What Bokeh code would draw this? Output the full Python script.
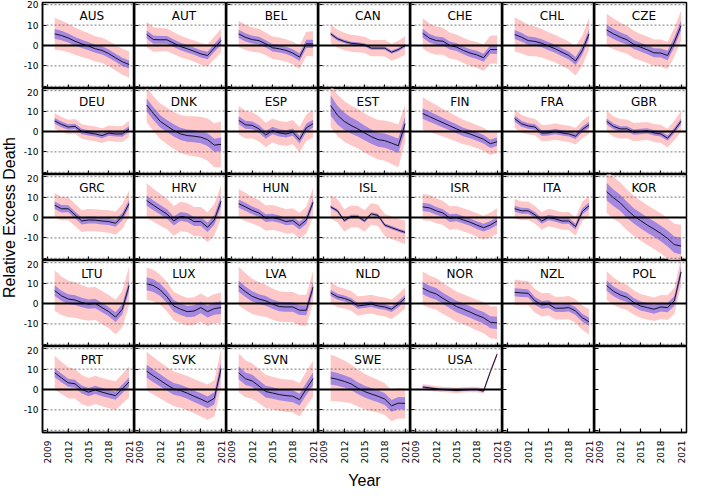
import numpy as np
from bokeh.plotting import figure
from bokeh.layouts import gridplot, row
from bokeh.models import Range1d, FixedTicker, Span
from bokeh.core.properties import value
from bokeh.embed import file_html
from bokeh.resources import INLINE

years = list(range(2010, 2022))
x_ticks = [2009, 2012, 2015, 2018, 2021]
y_ticks = [-20, -10, 0, 10, 20]
y_tick_labels = {20: "20", 10: "10", 0: "0", -10: "-10", -20: ""}

countries = ["AUS", "AUT", "BEL", "CAN", "CHE", "CHL", "CZE",
             "DEU", "DNK", "ESP", "EST", "FIN", "FRA", "GBR",
             "GRC", "HRV", "HUN", "ISL", "ISR", "ITA", "KOR",
             "LTU", "LUX", "LVA", "NLD", "NOR", "NZL", "POL",
             "PRT", "SVK", "SVN", "SWE", "USA"]

# median relative excess death (%), 2010..2021
median = {
    "AUS": [5.7, 4.9, 3.7, 2.1, 0.8, -0.3, -1.6, -2.4, -4.0, -6.0, -8.0, -9.3],
    "AUT": [5.4, 2.9, 2.8, 2.8, 1.1, -0.5, -1.6, -2.8, -4.1, -4.9, -1.2, 2.4],
    "BEL": [5.7, 4.0, 2.9, 2.4, 0.8, -1.1, -1.6, -2.4, -3.7, -5.7, 0.8, 0.8],
    "CAN": [5.7, 3.3, 2.0, 1.1, 0.8, 0.3, -1.3, -1.3, -1.3, -3.3, -2.0, 0.0],
    "CHE": [6.0, 3.6, 2.4, 2.1, 0.0, -0.8, -2.4, -3.7, -4.6, -6.0, -2.0, -2.0],
    "CHL": [5.4, 4.1, 2.4, 2.0, 1.1, -0.3, -1.6, -3.3, -4.9, -7.6, -2.4, 5.7],
    "CZE": [7.6, 5.7, 4.1, 2.8, 0.5, -0.8, -2.1, -3.6, -3.7, -4.9, 1.6, 9.8],
    "DEU": [5.2, 3.5, 2.2, 2.5, 0.0, -0.7, -1.2, -2.0, -0.8, -1.2, -1.2, 1.3],
    "DNK": [13.0, 8.8, 5.0, 2.7, 0.5, -1.2, -2.0, -2.3, -2.8, -4.0, -6.7, -6.3],
    "ESP": [5.5, 3.3, 3.0, 1.3, -1.7, 0.5, -0.7, -1.2, -0.3, -4.0, 1.8, 3.8],
    "EST": [12.7, 8.0, 5.0, 3.0, 1.3, -0.7, -2.5, -4.0, -4.5, -5.7, -7.0, 3.8],
    "FIN": [8.8, 7.3, 5.8, 4.3, 2.8, 1.3, -0.2, -1.2, -2.5, -3.8, -6.0, -5.0],
    "FRA": [6.3, 3.8, 2.7, 2.2, -0.8, -0.7, 0.0, -0.7, -1.2, -2.3, 1.0, 3.3],
    "GBR": [5.0, 2.5, 1.3, 1.3, -0.3, 0.0, 0.3, -0.7, -1.2, -3.3, 0.5, 5.0],
    "GRC": [6.0, 4.3, 4.3, 1.3, -1.7, -1.2, -1.3, -1.7, -2.0, -2.8, 0.5, 6.8],
    "HRV": [8.3, 6.0, 3.8, 1.7, -1.7, 0.5, 0.0, -2.0, -2.0, -4.8, -1.2, 8.0],
    "HUN": [6.8, 5.2, 3.5, 2.2, -0.3, 0.0, -0.8, -2.0, -1.5, -4.0, -1.2, 7.5],
    "ISL": [5.2, 3.3, -1.5, 0.5, 0.5, -1.7, 1.8, 1.0, -3.7, -5.0, -6.2, -7.3],
    "ISR": [5.2, 4.7, 3.3, 2.2, -0.3, 0.0, -1.2, -2.3, -3.7, -5.0, -3.7, -1.7],
    "ITA": [4.3, 3.3, 3.3, 1.3, -1.7, 0.0, -0.7, -1.7, -1.7, -4.5, 3.0, 5.8],
    "KOR": [12.7, 9.7, 7.2, 3.8, 0.8, -1.5, -3.7, -5.7, -7.8, -10.3, -13.3, -14.0],
    "LTU": [6.3, 3.8, 2.2, 1.7, 0.5, -0.3, 0.0, -2.0, -4.0, -6.7, -2.8, 8.8],
    "LUX": [9.7, 8.8, 6.7, 3.3, -1.2, -2.8, -4.0, -3.7, -2.0, -4.0, -2.5, -2.0],
    "LVA": [8.5, 5.8, 3.5, 2.2, 1.3, -0.3, -1.5, -1.7, -1.7, -3.3, -3.3, 8.0],
    "NLD": [5.2, 3.3, 2.5, 1.3, -1.2, -0.8, -0.3, -1.2, -1.7, -2.8, -0.3, 2.7],
    "NOR": [7.5, 5.8, 4.7, 2.5, 0.5, -1.5, -2.8, -4.2, -5.7, -7.0, -9.2, -9.5],
    "NZL": [5.5, 5.2, 5.0, 1.3, -0.7, -0.3, -2.3, -2.3, -2.0, -3.7, -7.0, -9.0],
    "POL": [8.8, 6.0, 4.2, 3.0, 0.5, -1.2, -2.0, -2.8, -1.7, -2.0, 1.3, 15.5],
    "PRT": [8.2, 5.7, 3.3, 2.8, 0.0, -1.3, -0.2, -1.3, -2.2, -3.0, 0.3, 3.7],
    "SVK": [9.0, 6.7, 4.5, 2.3, 0.3, -0.5, -1.8, -3.3, -4.7, -6.3, -4.3, 10.3],
    "SVN": [8.2, 5.3, 4.2, 1.7, -1.0, -1.7, -2.5, -3.0, -3.3, -5.0, 0.3, 5.3],
    "SWE": [5.7, 5.0, 4.0, 2.8, 0.7, -1.0, -2.2, -3.3, -4.7, -8.0, -6.7, -6.8],
    "USA": [1.2, 0.8, 0.3, 0.0, -0.2, -0.5, -0.2, 0.0, 0.0, -0.8, 8.7, 17.3],
}

# half-width of the wide (pink) interval
outer_hw = {
    "AUS": [7.8, 7.4, 7.0, 6.7, 6.5, 6.3, 6.2, 6.2, 6.2, 6.3, 6.4, 6.5],
    "AUT": [6.2, 6.0, 5.8, 5.6, 5.4, 5.3, 5.2, 5.2, 5.3, 5.4, 5.6, 5.8],
    "BEL": [6.5, 6.2, 6.0, 5.8, 5.6, 5.5, 5.5, 5.5, 5.6, 5.8, 6.0, 6.2],
    "CAN": [4.6, 4.4, 4.3, 4.2, 4.1, 4.0, 4.0, 4.0, 4.1, 4.2, 4.3, 4.5],
    "CHE": [7.5, 7.2, 6.9, 6.6, 6.4, 6.2, 6.2, 6.2, 6.3, 6.5, 6.8, 7.0],
    "CHL": [8.4, 8.0, 7.6, 7.3, 7.0, 6.8, 6.8, 6.8, 6.9, 7.1, 7.4, 7.8],
    "CZE": [8.0, 7.6, 7.2, 6.9, 6.7, 6.5, 6.5, 6.5, 6.6, 6.8, 7.0, 7.4],
    "DEU": [3.8, 3.7, 3.6, 3.6, 3.6, 3.6, 3.6, 3.6, 3.7, 3.8, 3.9, 4.0],
    "DNK": [8.5, 8.5, 8.7, 8.9, 9.1, 9.3, 9.5, 9.8, 10.0, 10.4, 10.8, 11.2],
    "ESP": [7.0, 6.7, 6.4, 6.2, 6.0, 5.9, 5.9, 5.9, 6.0, 6.2, 6.5, 6.8],
    "EST": [10.5, 10.2, 10.0, 9.8, 9.7, 9.6, 9.6, 9.7, 9.9, 10.2, 10.5, 9.0],
    "FIN": [8.0, 7.6, 7.2, 6.8, 6.5, 6.2, 6.0, 5.8, 5.7, 5.6, 5.5, 5.5],
    "FRA": [4.6, 4.4, 4.2, 4.1, 4.0, 4.0, 4.0, 4.0, 4.0, 4.1, 4.3, 4.5],
    "GBR": [5.2, 5.0, 4.8, 4.6, 4.5, 4.4, 4.4, 4.4, 4.5, 4.6, 4.8, 5.0],
    "GRC": [6.0, 5.8, 5.6, 5.5, 5.4, 5.4, 5.4, 5.4, 5.5, 5.7, 6.0, 6.4],
    "HRV": [8.5, 8.1, 7.8, 7.5, 7.3, 7.2, 7.1, 7.1, 7.2, 7.4, 7.7, 8.0],
    "HUN": [7.2, 6.9, 6.6, 6.4, 6.2, 6.1, 6.0, 6.0, 6.1, 6.3, 6.6, 7.0],
    "ISL": [5.8, 5.6, 5.5, 5.4, 5.3, 5.3, 5.3, 5.3, 5.4, 5.5, 5.6, 5.8],
    "ISR": [6.5, 6.3, 6.1, 5.9, 5.8, 5.7, 5.7, 5.7, 5.8, 5.9, 6.1, 6.3],
    "ITA": [4.8, 4.6, 4.5, 4.4, 4.3, 4.3, 4.3, 4.3, 4.4, 4.5, 4.7, 4.9],
    "KOR": [10.5, 10.3, 10.1, 10.0, 9.9, 9.8, 9.8, 9.8, 9.9, 10.0, 10.2, 10.4],
    "LTU": [10.0, 9.5, 9.0, 8.7, 8.4, 8.2, 8.1, 8.1, 8.2, 8.5, 8.9, 9.5],
    "LUX": [8.0, 7.7, 7.4, 7.2, 7.0, 6.9, 6.8, 6.8, 6.9, 7.0, 7.2, 7.4],
    "LVA": [9.5, 9.0, 8.6, 8.2, 7.9, 7.7, 7.5, 7.4, 7.4, 7.5, 7.7, 8.0],
    "NLD": [5.3, 5.1, 4.9, 4.8, 4.7, 4.6, 4.6, 4.6, 4.7, 4.8, 5.0, 5.2],
    "NOR": [8.2, 8.0, 7.8, 7.6, 7.5, 7.4, 7.4, 7.4, 7.5, 7.6, 7.8, 8.0],
    "NZL": [6.3, 6.1, 5.9, 5.8, 5.7, 5.6, 5.6, 5.6, 5.7, 5.8, 6.0, 6.2],
    "POL": [7.0, 6.7, 6.4, 6.2, 6.0, 5.9, 5.8, 5.8, 5.9, 6.1, 6.4, 6.8],
    "PRT": [8.3, 7.9, 7.6, 7.3, 7.1, 7.0, 6.9, 6.9, 7.0, 7.1, 7.3, 7.6],
    "SVK": [9.5, 9.2, 8.9, 8.7, 8.5, 8.4, 8.4, 8.4, 8.5, 8.7, 9.0, 9.4],
    "SVN": [9.5, 9.1, 8.7, 8.4, 8.2, 8.0, 7.9, 7.9, 8.0, 8.2, 8.5, 8.9],
    "SWE": [11.5, 10.8, 10.2, 9.6, 9.1, 8.7, 8.3, 8.0, 7.8, 7.6, 7.5, 7.5],
    "USA": [1.5, 1.4, 1.3, 1.3, 1.3, 1.3, 1.3, 1.3, 1.3, 1.3, 1.4, 1.5],
}

# half-width of the narrow (purple) interval
inner_hw = {
    "AUS": [2.4, 2.3, 2.2, 2.1, 2.0, 2.0, 2.0, 2.0, 2.0, 2.0, 2.0, 2.0],
    "AUT": [2.0, 2.0, 1.9, 1.9, 1.8, 1.8, 1.8, 1.8, 1.8, 1.8, 1.9, 2.0],
    "BEL": [2.0, 2.0, 1.9, 1.9, 1.8, 1.8, 1.8, 1.8, 1.8, 1.9, 2.0, 2.0],
    "CAN": [0.9, 0.9, 0.8, 0.8, 0.8, 0.8, 0.8, 0.8, 0.8, 0.8, 0.8, 0.9],
    "CHE": [2.2, 2.1, 2.0, 2.0, 2.0, 1.9, 1.9, 1.9, 2.0, 2.0, 2.1, 2.2],
    "CHL": [2.2, 2.1, 2.0, 2.0, 2.0, 2.0, 2.0, 2.0, 2.0, 2.0, 2.1, 2.2],
    "CZE": [2.6, 2.5, 2.4, 2.3, 2.2, 2.2, 2.2, 2.2, 2.2, 2.3, 2.4, 2.5],
    "DEU": [1.4, 1.4, 1.3, 1.3, 1.3, 1.3, 1.3, 1.3, 1.3, 1.3, 1.4, 1.4],
    "DNK": [3.2, 3.1, 3.0, 3.0, 3.0, 3.0, 3.0, 3.0, 3.0, 3.1, 3.2, 3.3],
    "ESP": [2.0, 2.0, 1.9, 1.9, 1.8, 1.8, 1.8, 1.8, 1.8, 1.9, 2.0, 2.0],
    "EST": [5.0, 4.6, 4.3, 4.0, 3.8, 3.6, 3.5, 3.5, 3.5, 3.5, 3.6, 3.6],
    "FIN": [2.6, 2.5, 2.4, 2.3, 2.2, 2.2, 2.1, 2.1, 2.1, 2.1, 2.1, 2.1],
    "FRA": [1.5, 1.5, 1.4, 1.4, 1.4, 1.3, 1.3, 1.3, 1.3, 1.4, 1.4, 1.5],
    "GBR": [1.4, 1.4, 1.3, 1.3, 1.3, 1.3, 1.3, 1.3, 1.3, 1.3, 1.4, 1.4],
    "GRC": [1.8, 1.8, 1.7, 1.7, 1.7, 1.7, 1.7, 1.7, 1.7, 1.7, 1.8, 1.8],
    "HRV": [2.5, 2.4, 2.3, 2.3, 2.2, 2.2, 2.2, 2.2, 2.2, 2.3, 2.4, 2.5],
    "HUN": [2.0, 2.0, 1.9, 1.9, 1.9, 1.8, 1.8, 1.8, 1.9, 1.9, 2.0, 2.0],
    "ISL": [0.8, 0.8, 0.8, 0.8, 0.8, 0.8, 0.8, 0.8, 0.8, 0.8, 0.8, 0.8],
    "ISR": [2.0, 2.0, 1.9, 1.9, 1.9, 1.8, 1.8, 1.8, 1.9, 1.9, 2.0, 2.0],
    "ITA": [1.5, 1.5, 1.4, 1.4, 1.4, 1.4, 1.4, 1.4, 1.4, 1.4, 1.5, 1.5],
    "KOR": [4.2, 4.1, 4.0, 3.9, 3.8, 3.8, 3.8, 3.8, 3.8, 3.9, 4.0, 4.1],
    "LTU": [2.6, 2.5, 2.4, 2.4, 2.3, 2.3, 2.3, 2.3, 2.3, 2.4, 2.5, 2.6],
    "LUX": [3.2, 3.1, 3.0, 2.9, 2.9, 2.8, 2.8, 2.8, 2.8, 2.9, 3.0, 3.1],
    "LVA": [2.7, 2.6, 2.5, 2.4, 2.4, 2.3, 2.3, 2.3, 2.3, 2.4, 2.5, 2.6],
    "NLD": [1.5, 1.5, 1.4, 1.4, 1.4, 1.4, 1.4, 1.4, 1.4, 1.4, 1.5, 1.5],
    "NOR": [3.0, 2.9, 2.9, 2.8, 2.8, 2.8, 2.8, 2.8, 2.8, 2.8, 2.9, 3.0],
    "NZL": [2.0, 2.0, 1.9, 1.9, 1.9, 1.9, 1.9, 1.9, 1.9, 1.9, 2.0, 2.0],
    "POL": [2.5, 2.4, 2.3, 2.3, 2.2, 2.2, 2.2, 2.2, 2.2, 2.3, 2.4, 2.5],
    "PRT": [2.2, 2.1, 2.0, 2.0, 2.0, 2.0, 2.0, 2.0, 2.0, 2.0, 2.1, 2.2],
    "SVK": [3.2, 3.1, 3.0, 2.9, 2.9, 2.8, 2.8, 2.8, 2.9, 2.9, 3.0, 3.2],
    "SVN": [3.2, 3.1, 3.0, 2.9, 2.9, 2.8, 2.8, 2.8, 2.9, 2.9, 3.0, 3.2],
    "SWE": [3.2, 3.1, 3.0, 3.0, 2.9, 2.9, 2.9, 2.9, 2.9, 2.9, 3.0, 3.0],
    "USA": [0.5, 0.5, 0.5, 0.5, 0.5, 0.5, 0.5, 0.5, 0.5, 0.5, 0.5, 0.5],
}

NC, NR = 7, 5
FW, FH = 92, 86
X0, X1 = 2008.2, 2021.8
Y0, Y1 = -21.1, 21.1
PINK = "#ffc8c8"
PURPLE = "#a487de"
LINE = "#15122b"
TICK_FONT = "DejaVu Sans"
TOP_PAD, BOTTOM_PAD = 2, 54

figs = []
for k in range(NR * NC):
    r, c = divmod(k, NC)
    p = figure(frame_width=FW, frame_height=FH,
               x_range=Range1d(X0, X1), y_range=Range1d(Y0, Y1),
               output_backend="svg", toolbar_location=None, title=None,
               min_border_left=(24 if c == 0 else 0),
               min_border_right=(2 if c == NC - 1 else 0),
               min_border_top=(TOP_PAD if r == 0 else 0),
               min_border_bottom=(BOTTOM_PAD if r == NR - 1 else 0))
    p.xgrid.grid_line_color = None
    p.ygrid.grid_line_color = None
    p.outline_line_color = "black"
    p.outline_line_width = 1.5
    p.outline_line_alpha = 1.0
    p.background_fill_color = "white"
    p.border_fill_color = "white"

    # every panel keeps its own axes with inward ticks; only the outer
    # column / row show tick labels
    xa = p.xaxis[0]
    xa.ticker = FixedTicker(ticks=x_ticks)
    xa.major_label_overrides = {t: str(t) for t in x_ticks}
    xa.major_tick_in = 4
    xa.major_tick_out = 0
    xa.minor_tick_line_color = None
    xa.axis_line_width = 1.5
    xa.major_tick_line_width = 1.2
    xa.major_label_orientation = np.pi / 2
    xa.major_label_text_font = TICK_FONT
    xa.major_label_text_font_size = "9px"
    xa.major_label_text_color = "black"
    xa.major_label_standoff = 8
    if r < NR - 1:
        xa.major_label_text_font_size = "0px"
        xa.major_label_standoff = 0

    ya = p.yaxis[0]
    ya.ticker = FixedTicker(ticks=y_ticks)
    ya.major_label_overrides = y_tick_labels
    ya.major_tick_in = 4
    ya.major_tick_out = 0
    ya.minor_tick_line_color = None
    ya.axis_line_width = 1.5
    ya.major_tick_line_width = 1.2
    ya.major_label_text_font = TICK_FONT
    ya.major_label_text_font_size = "9px"
    ya.major_label_text_color = "black"
    ya.major_label_standoff = 4
    if c > 0:
        ya.major_label_text_font_size = "0px"
        ya.major_label_standoff = 0

    if k < len(countries):
        name = countries[k]
        m = np.array(median[name])
        o = np.array(outer_hw[name])
        i = np.array(inner_hw[name])
        p.varea(x=years, y1=m - o, y2=m + o, fill_color=PINK, fill_alpha=1.0)
        p.varea(x=years, y1=m - i, y2=m + i, fill_color=PURPLE, fill_alpha=1.0)
        for v in (-20, -10, 10, 20):
            p.add_layout(Span(location=v, dimension="width", line_color="#555555",
                              line_width=0.8, line_dash="2 2"))
        p.add_layout(Span(location=0, dimension="width", line_color="black",
                          line_width=1.8))
        p.line(x=years, y=list(m), line_color=LINE, line_width=1.0)
        p.text(x=[2015.5], y=[14.6], text=[name], text_align="center",
               text_baseline="middle", text_font=value("DejaVu Sans"),
               text_font_size="12px", text_color="black")

    if r == NR - 1 and c == 3:
        xa.axis_label = "Year"
        xa.axis_label_text_font = "Liberation Sans"
        xa.axis_label_text_font_size = "16px"
        xa.axis_label_text_font_style = "normal"
        xa.axis_label_text_color = "black"
        xa.axis_label_standoff = 6
    figs.append(p)

grid = gridplot(figs, ncols=NC, toolbar_location=None)

# y-axis title, centred on the block of panels
total_h = TOP_PAD + NR * FH + BOTTOM_PAD
lab = figure(width=18, height=total_h, x_range=Range1d(0, 1),
             y_range=Range1d(0, total_h), output_backend="svg",
             toolbar_location=None, title=None, min_border=0)
lab.axis.visible = False
lab.grid.visible = False
lab.outline_line_color = None
lab.text(x=[0.5], y=[total_h - TOP_PAD - NR * FH / 2], text=["Relative Excess Death"],
         angle=np.pi / 2, text_align="center", text_baseline="middle",
         text_font=value("Liberation Sans"), text_font_size="16px",
         text_color="black")

layout = row(lab, grid)
open("out.html", "w").write(file_html(layout, INLINE))
